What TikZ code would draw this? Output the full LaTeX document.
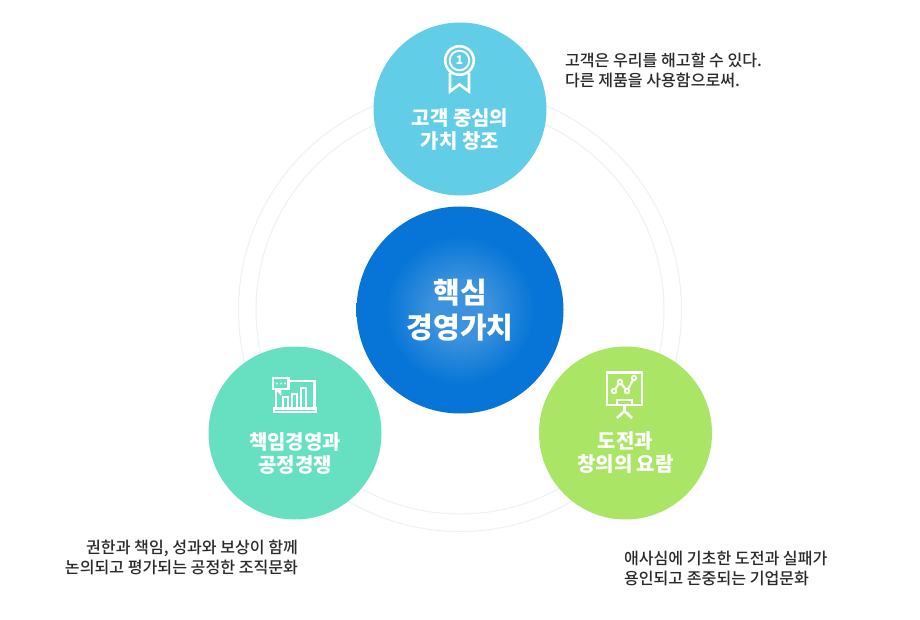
\documentclass[tikz,border=0pt]{standalone}
\usepackage{fontspec}
\newfontfamily\krfont{Noto Sans CJK KR Medium}
\newfontfamily\krbold{Noto Sans CJK KR Bold}
\newfontfamily\krblack{Noto Sans CJK KR Black}
\definecolor{skyc}{HTML}{62CDE6}
\definecolor{mintc}{HTML}{67E0C1}
\definecolor{limec}{HTML}{ABE566}
\definecolor{bluec}{HTML}{0675D7}
\definecolor{bluei}{HTML}{3C92DC}
\definecolor{ringc}{HTML}{E9F2F5}
\definecolor{txtc}{HTML}{2A2A2A}
\pgfdeclareradialshading{coreshade}{\pgfpoint{0bp}{0bp}}{color(0bp)=(bluei); color(7bp)=(bluei); color(18bp)=(bluec); color(50bp)=(bluec)}
\tikzset{
  every node/.style={inner sep=0pt,outer sep=0pt},
  bigdisc/.style={circle,minimum size=173pt},
  ringline/.style={draw=ringc,line width=1pt},
  iconline/.style={draw=white,line width=2.6pt,fill=none},
  disclabel/.style={text=white,align=center,font=\krblack\fontsize{20}{23}\selectfont},
  corelabel/.style={text=white,align=center,font=\krblack\fontsize{29}{35}\selectfont},
  note/.style={text=txtc,font=\krfont\fontsize{16.1}{20}\selectfont}
}
\begin{document}
\begin{tikzpicture}[x=1pt,y=-1pt]
\useasboundingbox (0,0) rectangle (920,620);
\fill[white] (0,0) rectangle (920,620);
\node[circle,minimum size=443pt,ringline,fill=white] (outerring) at (460,310) {};
\node[circle,minimum size=408pt,ringline,fill=white] (innerring) at (460,310) {};
\node[bigdisc,fill=skyc] (top) at (460,109) {};
\node[bigdisc,fill=mintc] (left) at (295,433) {};
\node[bigdisc,fill=limec] (right) at (625.5,433) {};
\node[circle,minimum size=207pt,shading=coreshade] (core) at (460,310) {};
\node[corelabel] (corelab) at (460,310.5) {핵심\\경영가치};
\node[disclabel] (toplab) at (460,129.5) {고객 중심의\\가치 창조};
\node[disclabel] (leftlab) at (295,453.5) {책임경영과\\공정경쟁};
\node[disclabel] (rightlab) at (625.5,453) {도전과\\창의의 요람};
% medal
\draw[iconline] (459.5,60.5) circle (14.3);
\draw[iconline,line width=1.9pt] (459.5,60.5) circle (9.8);
\node[text=white,font=\krblack\fontsize{12}{12}\selectfont] (medalnum) at (459.5,60) {1};
\draw[iconline,line join=miter] (450,73) -- (450,91.5) -- (459.5,84.5) -- (469,91.5) -- (469,73);
% chart
\draw[iconline] (288,381) -- (314.5,381) -- (314.5,408);
\draw[iconline] (276,390) -- (276,408);
\draw[iconline] (274,408.5) rectangle (316,412);
\draw[iconline,fill=mintc] (273,378) rectangle (288.5,389);
\draw[iconline] (277,389) -- (280,392.5) -- (280,389);
\fill[white] (277,383.5) circle (1.1) (281,383.5) circle (1.1) (285,383.5) circle (1.1);
\draw[iconline,line width=2.2pt] (283,408) -- (283,397) -- (288,397) -- (288,408);
\draw[iconline,line width=2.2pt] (292,408) -- (292,394) -- (297,394) -- (297,408);
\draw[iconline,line width=2.2pt] (301,408) -- (301,388) -- (306,388) -- (306,408);
% board
\draw[iconline] (607,372.5) rectangle (642,405);
\draw[iconline,line width=2.2pt] (614,391) -- (620,382) -- (627,391) -- (634,378);
\draw[iconline,line width=1.9pt,fill=limec] (614,391) circle (2.2) (620,382) circle (2.2) (627,391) circle (2.2) (634,378) circle (2.2);
\draw[iconline,fill=limec] (617,400) rectangle (632,405);
\draw[iconline] (624.5,405) -- (624.5,411) -- (617,418);
\draw[iconline] (624.5,411) -- (632,418);
% notes
\node[note,anchor=west] (n1a) at (565,60) {고객은 우리를 해고할 수 있다.};
\node[note,anchor=west] (n1b) at (565,80) {다른 제품을 사용함으로써.};
\node[note,anchor=east] (n2a) at (298,548) {권한과 책임, 성과와 보상이 함께};
\node[note,anchor=east] (n2b) at (298,567) {논의되고 평가되는 공정한 조직문화};
\node[note,anchor=west] (n3a) at (624,558.5) {애사심에 기초한 도전과 실패가};
\node[note,anchor=west] (n3b) at (624,578) {용인되고 존중되는 기업문화};
\end{tikzpicture}
\end{document}
